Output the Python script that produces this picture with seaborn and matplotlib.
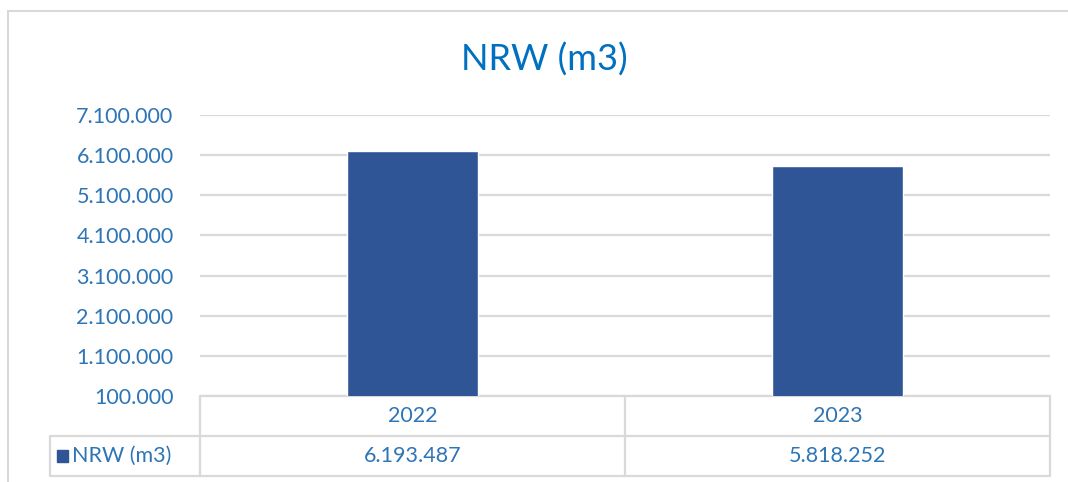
import matplotlib
matplotlib.use("Agg")
import matplotlib.pyplot as plt
import matplotlib.patches as mpatches
import seaborn as sns
import pandas as pd

# Data
years = ["2022", "2023"]
nrw_values = [6193487, 5818252]
series_name = "NRW (m3)"
y_ticks = [100000, 1100000, 2100000, 3100000, 4100000, 5100000, 6100000, 7100000]

bar_color = "#2F5597"
text_blue = "#2E75B6"
title_blue = "#0070C0"
line_grey = "#D9D9D9"

def fmt_dots(v):
    return f"{v:,}".replace(",", ".")

sns.set_theme(style="white")
plt.rcParams["font.family"] = ["Lato", "DejaVu Sans"]

df = pd.DataFrame({"year": years, "value": nrw_values})

fig = plt.figure(figsize=(10.68, 4.82), dpi=100)
ax = fig.add_axes([200 / 1068, 1 - 396 / 482, 850 / 1068, 281 / 482])

sns.barplot(data=df, x="year", y="value", color=bar_color, width=0.31,
            saturation=1, ax=ax, zorder=3)

ax.set_xlim(-0.5, 1.5)
ax.set_ylim(y_ticks[0], y_ticks[-1])
ax.set_yticks(y_ticks)
ax.set_yticklabels([fmt_dots(t) for t in y_ticks], color=text_blue, fontsize=15.5)
ax.tick_params(axis="y", length=0, pad=19)
ax.set_xticks([])
ax.set_xlabel("")
ax.set_ylabel("")
ax.grid(axis="y", color=line_grey, linewidth=1.6, zorder=0)
for s in ax.spines.values():
    s.set_visible(False)

fig.text(0.51, 1 - 60 / 482, series_name, ha="center", va="center",
         fontsize=26, color=title_blue)

# data table below the axes
tr = ax.get_xaxis_transform()
row1 = -40 / 281
row2 = -80 / 281
leg_left = -0.5 - 150 / 425
kw = dict(color=line_grey, linewidth=1.6, transform=tr, clip_on=False)
ax.plot([-0.5, 1.5], [0, 0], **kw)
ax.plot([leg_left, 1.5], [row1, row1], **kw)
ax.plot([leg_left, 1.5], [row2, row2], **kw)
ax.plot([leg_left, leg_left], [row1, row2], **kw)
for xb in [-0.5, 0.5, 1.5]:
    ax.plot([xb, xb], [0, row2], **kw)

for i, (yr, val) in enumerate(zip(years, nrw_values)):
    ax.text(i, row1 / 2, yr, ha="center", va="center", fontsize=15.5,
            color=text_blue, transform=tr)
    ax.text(i, (row1 + row2) / 2, fmt_dots(val), ha="center", va="center",
            fontsize=15.5, color=text_blue, transform=tr)

# legend key square + series name
mid = (row1 + row2) / 2
ax.add_patch(mpatches.Rectangle((leg_left + 7 / 425, mid - 6 / 281), 11 / 425, 12 / 281,
                                transform=tr, clip_on=False, color=bar_color))
ax.text(leg_left + 22 / 425, mid, series_name, ha="left", va="center",
        fontsize=15.5, color=text_blue, transform=tr)

# outer chart frame
fig.patches.append(mpatches.Rectangle((8 / 1068, -0.1), 1.2, 1 - 11 / 482 + 0.1,
                                      transform=fig.transFigure, fill=False,
                                      edgecolor="#D9D9D9", linewidth=1.5))

fig.savefig("out.png", dpi=100)
